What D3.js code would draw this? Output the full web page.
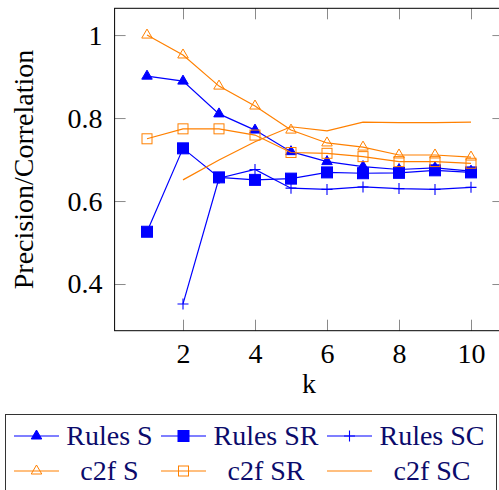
<!DOCTYPE html>
<html>
<head>
<meta charset="utf-8">
<script src="https://cdn.jsdelivr.net/npm/d3@7"></script>
<style>
  svg text { font-family: 'Liberation Serif' !important; }
</style>
</head>
<body style="margin:0">
<div id="chart"></div>
<script>
// data
var kValues  = [1, 2, 3, 4, 5, 6, 7, 8, 9, 10];
var rulesS   = [0.901, 0.889, 0.810, 0.771, 0.719, 0.695, 0.683, 0.676, 0.680, 0.672];
var rulesSR  = [0.526, 0.727, 0.657, 0.651, 0.654, 0.669, 0.667, 0.668, 0.674, 0.669];
var rulesSC  = [null, 0.352, 0.655, 0.676, 0.631, 0.628, 0.634, 0.630, 0.628, 0.633];
var c2fS     = [1.000, 0.952, 0.877, 0.829, 0.771, 0.740, 0.730, 0.711, 0.711, 0.706];
var c2fSR    = [0.750, 0.774, 0.774, 0.759, 0.717, 0.715, 0.707, 0.695, 0.695, 0.691];
var c2fSC    = [null, 0.651, 0.699, 0.743, 0.779, 0.769, 0.790, 0.789, 0.789, 0.790];
var xTicks   = [2, 4, 6, 8, 10];
var yTicks   = [0.4, 0.6, 0.8, 1];
var seriesNames = ["Rules S", "Rules SR", "Rules SC", "c2f S", "c2f SR", "c2f SC"];

// display settings
var svgWidth = 499, svgHeight = 490;
var blue = "#0000ff", orange = "#ff8000";
var fontSize = 28;
var fontName = "'Liberation Serif'";

var svg = d3.select("#chart").append("svg")
  .attr("width", svgWidth)
  .attr("height", svgHeight);

var x = d3.scaleLinear().domain([0.1, 10.9]).range([114.6, 503.4]);
var y = d3.scaleLinear().domain([0.2875, 1.0645]).range([330.7, 8.3]);

function setFont(sel) {
  sel.attr("font-family", fontName)
    .attr("font-size", fontSize)
    .style("font-family", fontName);
}

// axes (ticks inward)
function styleAxis(g) {
  g.attr("font-family", fontName).attr("font-size", fontSize);
  g.select(".domain").remove();
  g.selectAll(".tick line").attr("stroke", "#8a8a8a").attr("stroke-width", 1);
  g.selectAll(".tick text").attr("fill", "#000").call(setFont);
}

svg.append("g")
  .attr("transform", "translate(114.6,0)")
  .call(d3.axisLeft(y).tickValues(yTicks).tickSize(-11).tickPadding(12)
    .tickFormat(d => d === 1 ? "1" : d.toFixed(1)))
  .call(styleAxis);

svg.append("g")
  .attr("transform", "translate(0,330.7)")
  .call(d3.axisBottom(x).tickValues(xTicks).tickSize(-11).tickPadding(12))
  .call(styleAxis);

svg.append("g")
  .attr("transform", "translate(0,8.3)")
  .call(d3.axisTop(x).tickValues(xTicks).tickSize(-11).tickFormat(""))
  .call(styleAxis);

svg.append("g")
  .attr("transform", "translate(503.4,0)")
  .call(d3.axisRight(y).tickValues(yTicks).tickSize(-11).tickFormat(""))
  .call(styleAxis);

// frame
svg.append("rect")
  .attr("x", 114.6).attr("y", 8.3)
  .attr("width", 503.4 - 114.6).attr("height", 330.7 - 8.3)
  .attr("fill", "none").attr("stroke", "#000").attr("stroke-width", 1);

// axis titles
svg.append("text")
  .attr("x", x(5.5)).attr("y", 393)
  .attr("text-anchor", "middle")
  .call(setFont)
  .text("k");

svg.append("text")
  .attr("transform", "translate(33," + ((8.3 + 330.7) / 2) + ") rotate(-90)")
  .attr("text-anchor", "middle")
  .call(setFont)
  .text("Precision/Correlation");

// markers
function drawMarker(g, type, color, cx, cy) {
  if (type === "triFill" || type === "triOpen") {
    var h = 9, w = 10.5;
    g.append("path")
      .attr("d", `M${cx - w / 2},${cy + h / 3} L${cx + w / 2},${cy + h / 3} L${cx},${cy - 2 * h / 3} Z`)
      .attr("fill", type === "triFill" ? color : "none")
      .attr("stroke", color).attr("stroke-width", 1);
  } else if (type === "sqFill" || type === "sqOpen") {
    var s = type === "sqFill" ? 11 : 10;
    g.append("rect")
      .attr("x", cx - s / 2).attr("y", cy - s / 2)
      .attr("width", s).attr("height", s)
      .attr("fill", type === "sqFill" ? color : "none")
      .attr("stroke", color).attr("stroke-width", 1);
  } else if (type === "plus") {
    g.append("path")
      .attr("d", `M${cx - 5.5},${cy} L${cx + 5.5},${cy} M${cx},${cy - 5.5} L${cx},${cy + 5.5}`)
      .attr("stroke", color).attr("stroke-width", 1.1);
  }
}

var series = [
  { name: seriesNames[0], values: rulesS,  color: blue,   marker: "triFill" },
  { name: seriesNames[1], values: rulesSR, color: blue,   marker: "sqFill" },
  { name: seriesNames[2], values: rulesSC, color: blue,   marker: "plus" },
  { name: seriesNames[3], values: c2fS,    color: orange, marker: "triOpen" },
  { name: seriesNames[4], values: c2fSR,   color: orange, marker: "sqOpen" },
  { name: seriesNames[5], values: c2fSC,   color: orange, marker: "none" }
];

var lineGen = d3.line()
  .defined(d => d.v !== null)
  .x(d => x(d.k))
  .y(d => y(d.v));

series.forEach(function (s) {
  var pts = kValues.map((k, i) => ({ k: k, v: s.values[i] }));
  var g = svg.append("g");
  g.append("path")
    .datum(pts)
    .attr("d", lineGen)
    .attr("fill", "none")
    .attr("stroke", s.color)
    .attr("stroke-width", 1.2);
  pts.filter(p => p.v !== null).forEach(function (p) {
    drawMarker(g, s.marker, s.color, x(p.k), y(p.v));
  });
});

// legend
svg.append("rect")
  .attr("x", 5.5).attr("y", 414.5)
  .attr("width", 491).attr("height", 90)
  .attr("fill", "none").attr("stroke", "#333").attr("stroke-width", 1);

var colStart = [14, 161, 327];
var textCenter = [109.5, 266, 432];
var rowY = [436, 471];

series.forEach(function (s, i) {
  var col = i % 3, row = Math.floor(i / 3);
  var g = svg.append("g");
  var x0 = colStart[col], yy = rowY[row];
  g.append("line")
    .attr("x1", x0).attr("x2", x0 + 45)
    .attr("y1", yy).attr("y2", yy)
    .attr("stroke", s.color).attr("stroke-width", 1.2);
  drawMarker(g, s.marker, s.color, x0 + 22.5, yy);
  g.append("text")
    .attr("x", textCenter[col]).attr("y", yy)
    .attr("dy", "0.33em")
    .attr("text-anchor", "middle")
    .call(setFont)
    .attr("fill", "#0b0b6b")
    .text(s.name);
});
</script>
</body>
</html>
